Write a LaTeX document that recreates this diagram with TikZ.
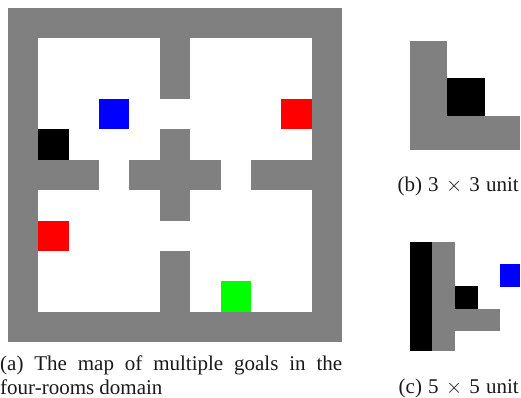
\documentclass[tikz,border=0pt]{standalone}
\usepackage{fontspec}
\setmainfont{Liberation Serif}
\definecolor{wallgray}{HTML}{808080}
\definecolor{goalred}{HTML}{FF0000}
\definecolor{goalblue}{HTML}{0000FF}
\definecolor{goalgreen}{HTML}{00FF00}
\tikzset{
  captext/.style={font=\fontsize{21}{24.5}\selectfont, inner sep=0pt, text=black!90},
  wall/.style={fill=wallgray},
}
\newcommand{\cellbox}[5]{\fill[#1] ({8+30.36*#2},{8+30.36*#3}) rectangle ({8+30.36*#4},{8+30.36*#5});}
\begin{document}
\begin{tikzpicture}[x=1pt,y=-1pt]
\useasboundingbox (0,0) rectangle (521,398);
% map (a)
\cellbox{wall}{0}{0}{11}{11}
\cellbox{white}{1}{1}{10}{10}
\cellbox{wall}{5}{1}{6}{3}
\cellbox{wall}{5}{4}{6}{7}
\cellbox{wall}{5}{8}{6}{10}
\cellbox{wall}{1}{5}{3}{6}
\cellbox{wall}{4}{5}{7}{6}
\cellbox{wall}{8}{5}{10}{6}
\cellbox{goalblue}{3}{3}{4}{4}
\cellbox{goalred}{9}{3}{10}{4}
\cellbox{black}{1}{4}{2}{5}
\cellbox{goalred}{1}{7}{2}{8}
\cellbox{goalgreen}{7}{9}{8}{10}
% unit (b)
\fill[wall] (410,41) rectangle (447.3,149.7);
\fill[wall] (410,115.7) rectangle (520,149.7);
\fill[black] (447.3,78) rectangle (485,115.7);
% unit (c)
\fill[black] (410,242) rectangle (432.4,350.7);
\fill[wall] (432.4,242) rectangle (455,350.7);
\fill[wall] (455,308.7) rectangle (500,331);
\fill[black] (455,286.4) rectangle (477.7,308.7);
\fill[goalblue] (500,264.3) rectangle (520,286.6);
% captions
\node[captext, anchor=base west, text width=342pt, align=justify] (capa) at (0,370) {(a) The map of multiple goals in the\linebreak four-rooms domain};
\node[captext, anchor=base east] (capb) at (519,191.5) {(b)\hspace{1pt} 3\hspace{2pt} $\times$\hspace{2pt} 3\hspace{1pt} unit};
\node[captext, anchor=base east] (capc) at (519,393.5) {(c)\hspace{1pt} 5\hspace{2pt} $\times$\hspace{2pt} 5\hspace{1pt} unit};
\end{tikzpicture}
\end{document}
